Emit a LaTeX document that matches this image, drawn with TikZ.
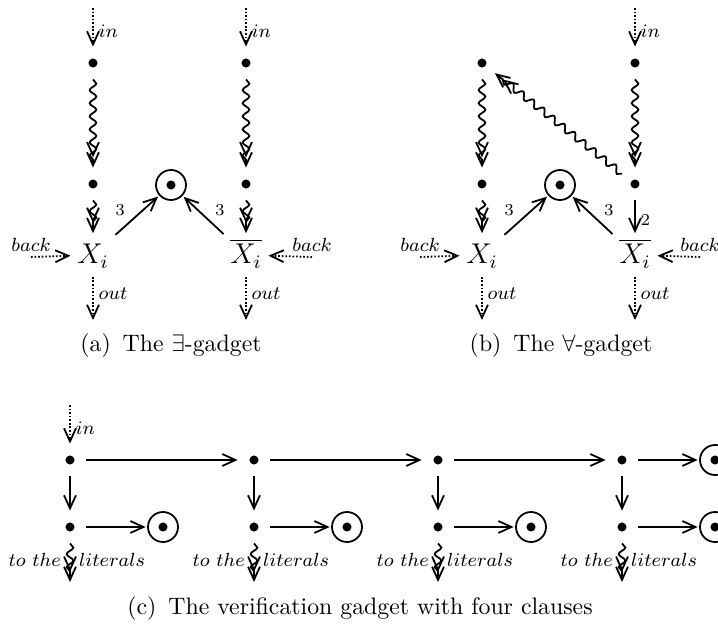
\documentclass[tikz,border=0pt]{standalone}
\usetikzlibrary{arrows.meta,decorations.pathmorphing}
\tikzset{
  dotnode/.style={circle,fill,inner sep=0pt,minimum size=3.8pt,outer sep=5pt},
  target/.style={circle,draw,minimum size=12.6pt,inner sep=0pt,outer sep=1pt,
    path picture={\fill (path picture bounding box.center) circle (1.9pt);}},
  lit/.style={inner sep=2.5pt,text height=10pt,text depth=2.6pt,font=\fontsize{12}{14}\selectfont},
  lab/.style={font=\footnotesize,inner sep=2pt},
  sidelab/.style={font=\footnotesize,inner sep=3.5pt},
  num/.style={font=\scriptsize,inner sep=2pt},
  captext/.style={font=\normalsize,inner sep=0pt},
  arr/.style={-{Straight Barb[length=5.5pt,width=5pt,line width=0.75pt]}},
  dblarr/.style={-{Straight Barb[length=5.5pt,width=5pt,line width=0.75pt,sep=-2.5pt] Straight Barb[length=5.5pt,width=5pt,line width=0.75pt]}},
  dotarr/.style={arr,dash pattern=on 0.7pt off 0.8pt},
  wavyarr/.style={dblarr,decorate,decoration={snake,amplitude=1.4pt,segment length=5.5pt,post length=3pt}},
}
\begin{document}
\begin{tikzpicture}[x=0.42pt,y=-0.42pt,line width=0.75pt]
\clip (0,0) rectangle (718,628);
% ---------------- panel (a)
\node[dotnode] (a1) at (93,63) {};
\node[dotnode] (a2) at (93,184) {};
\node[lit] (ax) at (93,255) {$X_i$};
\node[dotnode] (a3) at (246,63) {};
\node[dotnode] (a4) at (246,184) {};
\node[lit] (axb) at (246,255) {$\overline{X_i}$};
\node[target] (ac) at (171,185) {};
\coordinate (ain1) at (93,8);
\coordinate (ain2) at (246,8);
\coordinate (aback1) at (31,257);
\coordinate (aback2) at (312,257);
\coordinate (aout1) at (93,320);
\coordinate (aout2) at (246,320);
\draw[dotarr] (ain1) -- node[lab,pos=0.6,right]{$in$} (a1);
\draw[dotarr] (ain2) -- node[lab,pos=0.6,right]{$in$} (a3);
\draw[wavyarr] (a1) -- (a2);
\draw[wavyarr] (a2) -- (ax);
\draw[wavyarr] (a3) -- (a4);
\draw[wavyarr] (a4) -- (axb);
\draw[arr] (ax) -- node[num,pos=0.35,above left]{$3$} (ac);
\draw[arr] (axb) -- node[num,pos=0.35,above right]{$3$} (ac);
\draw[dotarr] (aback1) -- node[lab,pos=0,above]{$back$} (ax);
\draw[dotarr] (aback2) -- node[lab,pos=0,above]{$back$} (axb);
\draw[dotarr] (ax) -- node[lab,pos=0.4,right]{$out$} (aout1);
\draw[dotarr] (axb) -- node[lab,pos=0.4,right]{$out$} (aout2);
\node[captext] (capa) at (171,346) {(a)\enspace The $\exists$-gadget};
% ---------------- panel (b)
\node[dotnode] (b1) at (482,63) {};
\node[dotnode] (b2) at (482,184) {};
\node[lit] (bx) at (482,255) {$X_i$};
\node[dotnode] (b3) at (635,63) {};
\node[dotnode] (b4) at (635,184) {};
\node[lit] (bxb) at (635,255) {$\overline{X_i}$};
\node[target] (bc) at (560,185) {};
\coordinate (bin2) at (635,8);
\coordinate (bback1) at (420,257);
\coordinate (bback2) at (700,257);
\coordinate (bout1) at (482,320);
\coordinate (bout2) at (635,320);
\draw[dotarr] (bin2) -- node[lab,pos=0.6,right]{$in$} (b3);
\draw[wavyarr] (b1) -- (b2);
\draw[wavyarr] (b2) -- (bx);
\draw[wavyarr] (b3) -- (b4);
\draw[wavyarr] (b4) -- (b1);
\draw[arr] (b4) -- node[num,pos=0.6,right]{$2$} (bxb);
\draw[arr] (bx) -- node[num,pos=0.35,above left]{$3$} (bc);
\draw[arr] (bxb) -- node[num,pos=0.35,above right]{$3$} (bc);
\draw[dotarr] (bback1) -- node[lab,pos=0,above]{$back$} (bx);
\draw[dotarr] (bback2) -- node[lab,pos=0,above]{$back$} (bxb);
\draw[dotarr] (bx) -- node[lab,pos=0.4,right]{$out$} (bout1);
\draw[dotarr] (bxb) -- node[lab,pos=0.4,right]{$out$} (bout2);
\node[captext] (capb) at (561,346) {(b)\enspace The $\forall$-gadget};
% ---------------- panel (c)
\foreach \i/\x in {1/70,2/254,3/438,4/622}{
  \node[dotnode] (u\i) at (\x,460) {};
  \node[dotnode] (v\i) at (\x,527) {};
  \node[target] (t\i) at (\x+93,527) {};
  \coordinate (w\i) at (\x,582);
  \draw[arr] (u\i) -- (v\i);
  \draw[arr] (v\i) -- (t\i);
  \draw[wavyarr] (v\i) -- node[sidelab,pos=0.42,left]{$to\ the$} node[sidelab,pos=0.42,right]{$literals$} (w\i);
}
\node[target] (tt) at (715,460) {};
\coordinate (cin) at (70,405);
\draw[dotarr] (cin) -- node[lab,pos=0.6,right]{$in$} (u1);
\draw[arr] (u1) -- (u2);
\draw[arr] (u2) -- (u3);
\draw[arr] (u3) -- (u4);
\draw[arr] (u4) -- (tt);
\node[captext] (capc) at (360,609) {(c)\enspace The verification gadget with four clauses};
\end{tikzpicture}
\end{document}
